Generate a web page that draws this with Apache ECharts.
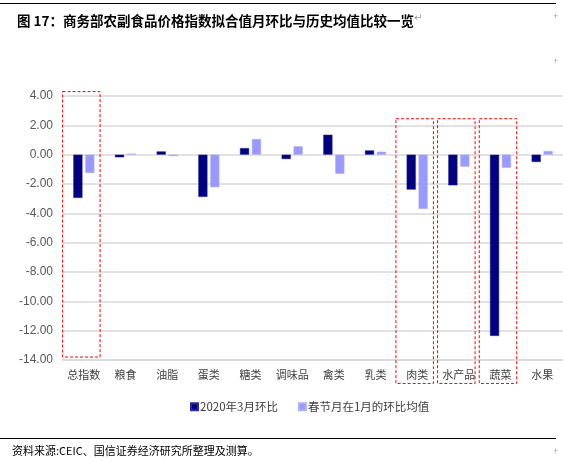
<!DOCTYPE html>
<html><head><meta charset="utf-8">
<script src="https://cdn.jsdelivr.net/npm/echarts@6/dist/echarts.min.js"></script>
<style>html,body{margin:0;padding:0;background:#fff}#c{width:563px;height:462px}</style>
</head><body><div id="c"></div>
<script>
const categories = ['总指数','粮食','油脂','蛋类','糖类','调味品','禽类','乳类','肉类','水产品','蔬菜','水果'];
const march2020 = [-2.95,-0.18,0.22,-2.88,0.45,-0.30,1.36,0.29,-2.38,-2.09,-12.36,-0.50];
const springAvg = [-1.25,0.07,-0.10,-2.22,1.07,0.57,-1.31,0.20,-3.70,-0.82,-0.90,0.25];
const seriesNames = ['2020年3月环比','春节月在1月的环比均值'];
const yTicks = {min:-14, max:4, interval:2};
// highlighted categories: [category index, upper value, lower value]
const boxIdx = [0,8,9,10];
const boxTop = [4.3,2.45,2.45,2.45];
const boxBottom = [-13.8,-15.6,-15.6,-15.6];
const boxData = boxIdx.map((c,i)=>[c,boxTop[i],boxBottom[i]]);

const chart = echarts.init(document.getElementById('c'));
chart.setOption({
  animation:false,
  backgroundColor:'#fff',
  title:{text:'图 17：商务部农副食品价格指数拟合值月环比与历史均值比较一览',left:12,top:9,
    textStyle:{fontSize:13.5,fontWeight:'bold',color:'#000',fontFamily:'Noto Sans CJK SC'}},
  graphic:[
    {type:'line',shape:{x1:0,y1:3.5,x2:556,y2:3.5},style:{stroke:'#000',lineWidth:1}},
    {type:'line',shape:{x1:0,y1:438.5,x2:556,y2:438.5},style:{stroke:'#000',lineWidth:1}},
    {type:'text',left:414,top:13,style:{text:'↵',fill:'#999',fontSize:10,fontFamily:'DejaVu Sans'}},
    {type:'text',left:12,top:445,style:{text:'资料来源:CEIC、国信证券经济研究所整理及测算。',fill:'#000',fontSize:11,fontFamily:'Noto Sans CJK SC'}},
    {type:'text',left:553,top:12,style:{text:'+',fill:'#aaa',fontSize:9}},
    {type:'text',left:553,top:57,style:{text:'+',fill:'#aaa',fontSize:9}},
    {type:'text',left:553,top:447,style:{text:'+',fill:'#aaa',fontSize:9}}
  ],
  legend:{data:seriesNames,left:185,top:396,icon:'rect',itemWidth:7,itemHeight:7,itemGap:20,
    textStyle:{fontSize:11.5,color:'#404040',fontFamily:'Noto Sans CJK SC',padding:[0,0,0,-3]}},
  grid:{left:63,right:-5,top:96,bottom:102,containLabel:false},
  xAxis:{type:'category',data:categories,
    axisLine:{onZero:false,lineStyle:{color:'#d9d9d9',width:1.5}},
    axisTick:{show:false},
    axisLabel:{fontSize:11,color:'#404040',margin:9,fontFamily:'Noto Sans CJK SC',interval:0}},
  yAxis:{type:'value',min:yTicks.min,max:yTicks.max,interval:yTicks.interval,
    axisLine:{show:false},axisTick:{show:false},
    splitLine:{lineStyle:{color:'#d9d9d9',width:1.5}},
    axisLabel:{fontSize:12,color:'#595959',margin:10,fontFamily:'Liberation Sans',formatter:v=>v.toFixed(2)}},
  series:[
    {name:seriesNames[0],type:'bar',data:march2020,barWidth:'22%',barGap:'30%',
      itemStyle:{color:'#000080',borderColor:'#2a2a9a',borderWidth:0.5}},
    {name:seriesNames[1],type:'bar',data:springAvg,barWidth:'22%',
      itemStyle:{color:'#9999ff',borderColor:'#b0b0ff',borderWidth:0.5}},
    {type:'custom',data:boxData,encode:{x:0,y:[1,2]},clip:false,silent:true,z:5,
      renderItem:function(params,api){
        const c = api.value(0);
        const p1 = api.coord([c,api.value(1)]);
        const p2 = api.coord([c,api.value(2)]);
        const w = api.size([1,0])[0]*0.9;
        return {type:'rect',shape:{x:p1[0]-w/2-2.5,y:p1[1],width:w,height:p2[1]-p1[1]},
          style:{fill:null,stroke:'#ff0000',lineWidth:1,lineDash:[3,2]}};
      }}
  ]
});
</script></body></html>
